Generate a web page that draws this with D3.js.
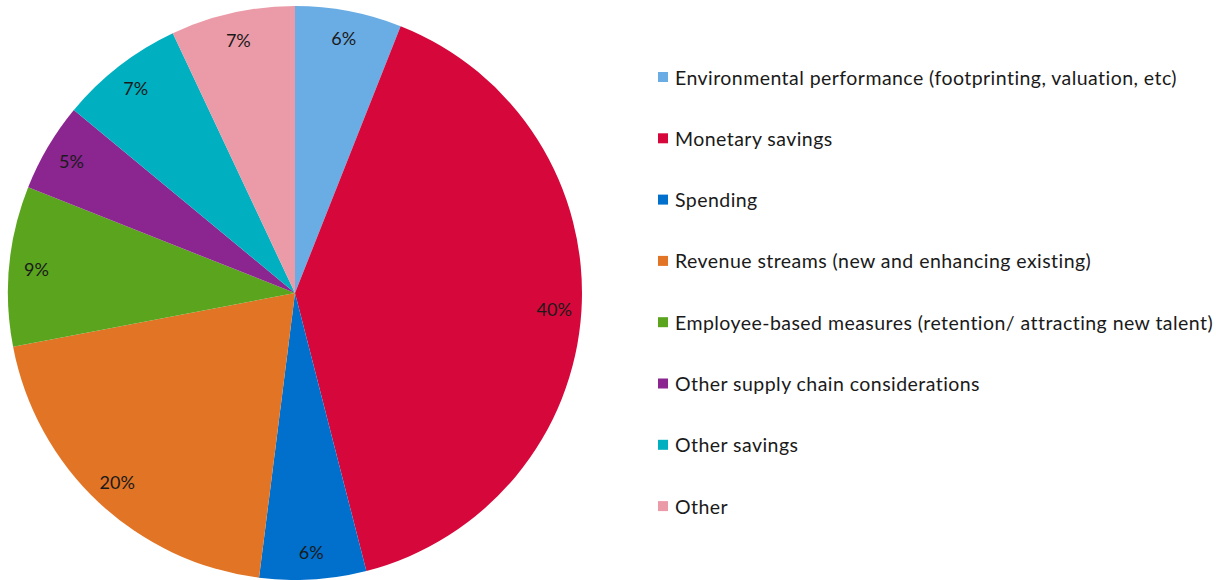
<!DOCTYPE html>
<html>
<head>
<meta charset="utf-8">
<script src="https://cdn.jsdelivr.net/npm/d3@7"></script>
<style>
  html, body { margin: 0; padding: 0; background: #fff; }
  svg { display: block; }
  text { font-family: "Lato", "Open Sans", sans-serif; fill: #1a1a1a; }
</style>
</head>
<body>
<svg id="chart" width="1216" height="580"></svg>
<script>
// Share of responses by measurement category
const categories = [
  "Environmental performance (footprinting, valuation, etc)",
  "Monetary savings",
  "Spending",
  "Revenue streams (new and enhancing existing)",
  "Employee-based measures (retention/ attracting new talent)",
  "Other supply chain considerations",
  "Other savings",
  "Other"
];
const values = [6, 40, 6, 20, 9, 5, 7, 7];
const colors = ["#6aade4", "#d6083b", "#0070cc", "#e27425", "#5aa41e", "#8b2590", "#00b0c0", "#eb9aa8"];

const svg = d3.select("#chart");
const cx = 295, cy = 293, radius = 287;

const data = categories.map((c, i) => ({ name: c, value: values[i], color: colors[i] }));

const pie = d3.pie().value(d => d.value).sort(null);
const arc = d3.arc().innerRadius(0).outerRadius(radius);
const labelArc = d3.arc().innerRadius(radius * 0.905).outerRadius(radius * 0.905);

const g = svg.append("g").attr("transform", `translate(${cx},${cy})`);
const arcs = pie(data);

g.selectAll("path.slice")
  .data(arcs)
  .join("path")
  .attr("class", "slice")
  .attr("d", arc)
  .attr("fill", d => d.data.color);

g.selectAll("text.pct")
  .data(arcs)
  .join("text")
  .attr("class", "pct")
  .attr("transform", d => `translate(${labelArc.centroid(d)})`)
  .attr("text-anchor", "middle")
  .attr("dominant-baseline", "central")
  .style("font-size", "18px")
  .text(d => d.data.value + "%");

// Legend
const legend = svg.append("g").attr("transform", "translate(658,77)");
const rowStep = 61.3;
const rows = legend.selectAll("g.item")
  .data(data)
  .join("g")
  .attr("class", "item")
  .attr("transform", (d, i) => `translate(0,${i * rowStep})`);

rows.append("rect")
  .attr("x", 0).attr("y", -5)
  .attr("width", 10).attr("height", 10)
  .attr("fill", d => d.color);

rows.append("text")
  .attr("x", 17)
  .attr("dominant-baseline", "central")
  .style("font-size", "19.5px")
  .style("letter-spacing", "0.45px")
  .text(d => d.name);
</script>
</body>
</html>
